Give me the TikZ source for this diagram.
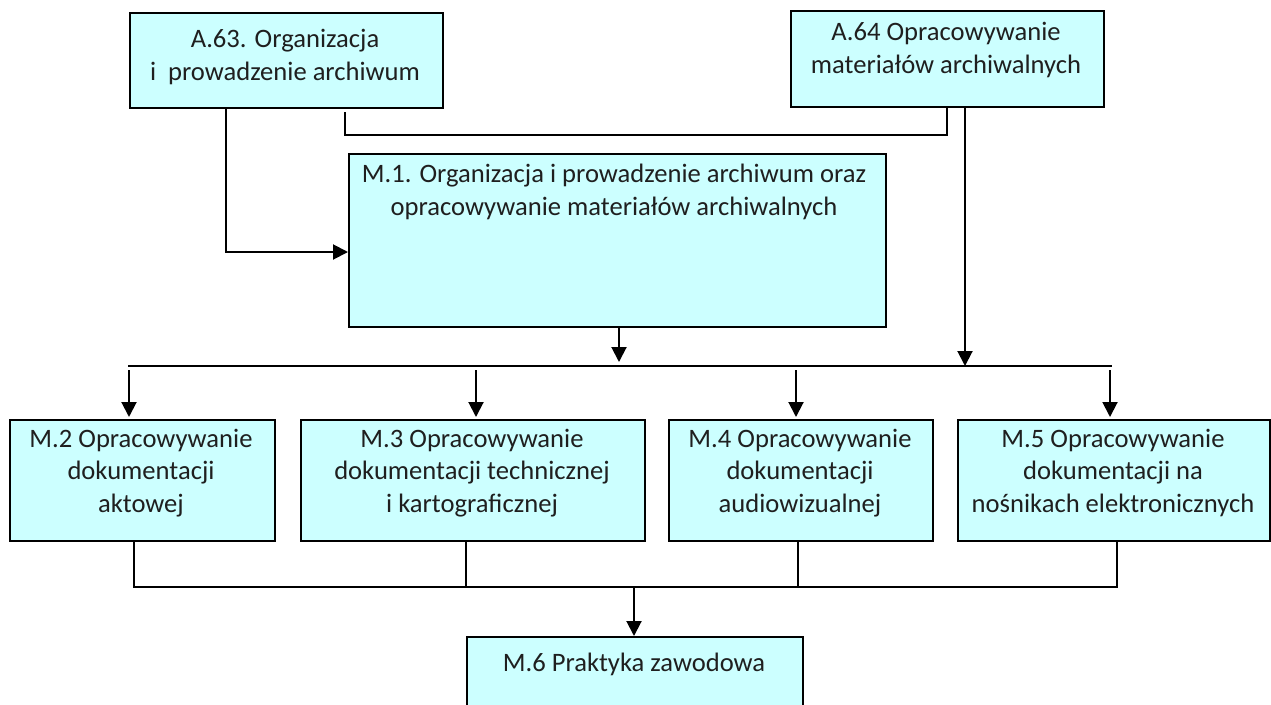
\documentclass[tikz,border=0pt]{standalone}
\usepackage{fontspec}
\setmainfont{Carlito}
\usetikzlibrary{arrows.meta}
\definecolor{boxfill}{HTML}{CCFFFF}
\tikzset{
  box/.style={draw=black, line width=2.4pt, fill=boxfill, rectangle, inner sep=0pt, anchor=north west},
  lbl/.style={align=center, inner sep=0pt, font=\fontsize{26.6}{32.5}\selectfont, text=black!88},
  conn/.style={line width=2pt, draw=black},
  arr/.style={conn, -{Triangle[length=15pt,width=15pt]}}
}
\begin{document}
\begin{tikzpicture}[x=1pt,y=-1pt]
\useasboundingbox (0,0) rectangle (1271,704);
% boxes
\node[box, minimum width=313pt, minimum height=95pt] (a63) at (129,12) {};
\node[box, minimum width=313pt, minimum height=96pt] (a64) at (790,10) {};
\node[box, minimum width=537pt, minimum height=173pt] (m1) at (348,153) {};
\node[box, minimum width=265pt, minimum height=121pt] (m2) at (9,419) {};
\node[box, minimum width=344pt, minimum height=121pt] (m3) at (300,419) {};
\node[box, minimum width=264pt, minimum height=121pt] (m4) at (668,419) {};
\node[box, minimum width=312pt, minimum height=121pt] (m5) at (957,419) {};
\node[box, minimum width=336pt, minimum height=75pt] (m6) at (466,636) {};
% texts (anchor base = baseline of the last line)
\node[lbl, anchor=base] (a63t) at (285,80) {A.63. Organizacja\\i\ \ prowadzenie archiwum};
\node[lbl, anchor=base] (a64t) at (946,73) {A.64 Opracowywanie\\materiałów archiwalnych};
\node[lbl, anchor=base] (m1t) at (614,215) {M.1. Organizacja i prowadzenie archiwum oraz\\opracowywanie materiałów archiwalnych};
\node[lbl, anchor=base] (m2t) at (141,512) {M.2 Opracowywanie\\dokumentacji\\aktowej};
\node[lbl, anchor=base] (m3t) at (472,512) {M.3 Opracowywanie\\dokumentacji technicznej\\i kartograficznej};
\node[lbl, anchor=base] (m4t) at (800,512) {M.4 Opracowywanie\\dokumentacji\\audiowizualnej};
\node[lbl, anchor=base] (m5t) at (1113,512) {M.5 Opracowywanie\\dokumentacji na\\nośnikach elektronicznych};
\node[lbl, anchor=base] (m6t) at (634,671) {M.6 Praktyka zawodowa};
% helper coordinates
\coordinate (xa) at (226,0);
\coordinate (ya) at (0,252);
\coordinate (xb) at (345,0);
\coordinate (yb) at (0,135);
\coordinate (xc) at (947,0);
\coordinate (xd) at (965,0);
\coordinate (xe) at (619,0);
\coordinate (hl) at (128,366);
\coordinate (hr) at (1112,366);
\coordinate (yt) at (0,370);
\coordinate (x2) at (129,0);
\coordinate (x3) at (476,0);
\coordinate (x4) at (796,0);
\coordinate (x5) at (1110,0);
\coordinate (ll) at (134,587);
\coordinate (lr) at (1117,587);
\coordinate (y3) at (466,0);
\coordinate (y4) at (798,0);
\coordinate (x6) at (634,0);
% connectors
\draw[arr] (a63.south -| xa) |- (m1.west |- ya);
\draw[conn] ([yshift=-3pt]a63.south -| xb) |- (yb -| xc) -- (a64.south -| xc);
\draw[arr] (a64.south -| xd) -- (hl -| xd);
\draw[arr] (m1.south -| xe) -- ([yshift=4pt]hl -| xe);
\draw[conn] (hl) -- (hr);
\draw[arr] (yt -| x2) -- ([yshift=2pt]m2.north -| x2);
\draw[arr] (yt -| x3) -- ([yshift=2pt]m3.north -| x3);
\draw[arr] (yt -| x4) -- ([yshift=2pt]m4.north -| x4);
\draw[arr] (yt -| x5) -- ([yshift=2pt]m5.north -| x5);
\draw[conn] (m2.south -| ll) -- (ll) -- (lr) -- (m5.south -| lr);
\draw[conn] (m3.south -| y3) -- (ll -| y3);
\draw[conn] (m4.south -| y4) -- (ll -| y4);
\draw[arr] (ll -| x6) -- (m6.north -| x6);
\end{tikzpicture}
\end{document}
